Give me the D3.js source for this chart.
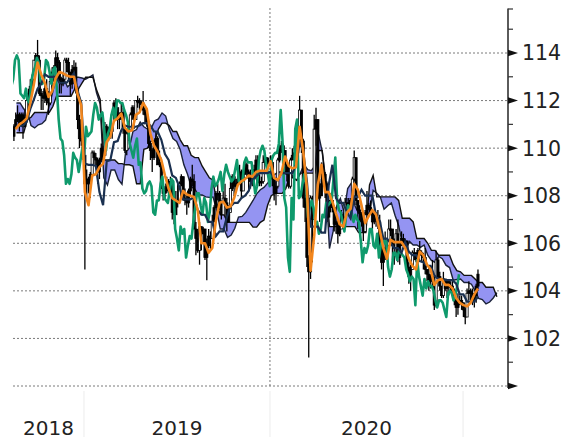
<!DOCTYPE html>
<html>
<head>
<meta charset="utf-8">
<script src="https://cdn.jsdelivr.net/npm/d3@7"></script>
<style>
  body { margin: 0; background: #fff; }
  svg { display: block; }
</style>
</head>
<body>
<svg id="chart" width="564" height="437"></svg>
<script>
// USD/JPY daily ichimoku, Aug 2018 - Jan 2021
// candles are sampled every half week (index k), lines weekly (index w)

const titleText = "米ドル／円相場の推移と一目均衡表（日足）";
const yearLabels = ["2018", "2019", "2020"];
const yearBounds = [0, 39, 141.2, 247.3];   // in half-week units
const yTicks = [100, 102, 104, 106, 108, 110, 112, 114];
const yMinor = [101, 103, 105, 107, 109, 111, 113, 115];

const firstOpen = 110.5;
const closes = [
  110.9,111.2, 111.4,111.0, 111.4,110.9, 111.3,112.0, 112.3,112.6, 112.9,113.7, 113.9,113.7, 112.3,112.2, 112.1,112.5, 112.0,111.9,
  112.8,113.2, 113.4,113.8, 113.6,112.8, 112.7,112.9, 113.7,113.6, 113.2,112.7, 113.3,113.4, 112.5,111.2, 110.4,110.3, 109.7,108.5,
  108.7,108.5, 108.9,109.8, 109.6,109.5, 109.0,109.5, 110.0,109.7, 110.9,110.5, 110.6,110.7, 111.4,111.9, 111.7,111.2, 111.4,111.5,
  110.8,109.9, 110.6,110.8, 111.4,111.7, 111.2,112.0, 112.0,111.9, 111.9,111.6, 111.4,111.1, 110.2,109.9, 109.6,110.1, 110.4,109.3,
  109.4,108.3, 108.1,108.2, 108.5,108.6, 108.4,107.3, 107.2,107.8, 107.8,108.5, 108.8,107.9, 107.8,107.7, 108.2,108.7, 108.6,106.6,
  106.2,105.7, 106.7,106.4, 106.6,105.4, 105.9,106.3, 106.2,106.9, 107.5,108.1, 108.1,107.6, 107.2,107.9, 107.7,106.9, 107.3,108.3,
  108.8,108.4, 108.5,108.7, 109.0,108.2, 108.9,109.3, 109.0,108.8, 108.6,108.7, 109.1,109.5, 108.6,108.6, 108.6,109.4, 109.6,109.4,
  109.4,109.4, 108.7,108.1, 108.4,109.5, 109.9,110.1, 109.9,109.3, 108.9,108.4, 109.5,109.7, 109.8,109.8, 110.2,111.6, 110.3,107.9,
  107.5,105.4, 104.8,107.9, 107.0,110.8, 111.2,107.9, 108.0,108.5, 108.9,108.5, 107.1,107.5, 107.8,107.5, 106.8,106.9, 106.4,106.6,
  107.2,107.1, 107.7,107.6, 107.7,107.8, 108.7,109.6, 107.8,107.4, 107.3,106.9, 106.5,107.2, 107.6,107.5, 107.3,106.9, 107.2,107.0,
  106.9,106.1, 105.2,105.8, 105.6,105.9, 106.6,106.6, 105.9,105.8, 106.4,105.4, 105.9,106.2, 106.0,106.1, 105.0,104.6, 104.9,105.6,
  105.6,105.3, 105.7,105.6, 105.5,105.4, 104.9,104.7, 104.4,104.6, 104.5,103.4, 105.3,104.6, 104.2,103.8, 104.5,104.1, 104.4,104.2,
  104.2,104.0, 103.6,103.3, 103.6,103.6, 103.5,103.2, 102.9,103.9, 104.0,103.9, 103.6,103.8, 104.2,104.7
];
const highs = [
  111.0,111.5, 111.8,111.5, 111.5,111.5, 111.6,112.1, 112.5,112.9, 113.1,113.7, 114.0,114.55, 113.9,112.5, 112.4,112.7, 112.9,112.4,
  113.0,113.4, 113.5,114.1, 114.0,113.7, 113.0,113.2, 113.8,113.8, 113.8,113.2, 113.5,113.7, 113.6,112.6, 111.4,111.0, 110.3,109.7,
  109.1,108.8, 109.0,109.9, 109.9,109.8, 109.6,109.6, 110.2,110.1, 111.1,111.0, 110.9,110.9, 111.5,112.0, 112.1,111.7, 111.5,111.9,
  111.7,110.9, 110.7,111.0, 111.5,111.8, 111.8,112.0, 112.2,112.1, 112.0,112.4, 111.7,111.6, 111.2,110.3, 110.0,110.3, 110.7,110.5,
  109.9,109.6, 108.5,108.4, 108.8,108.7, 108.8,108.5, 107.6,108.2, 108.5,108.6, 108.9,108.7, 108.3,108.1, 108.3,108.8, 109.3,108.9,
  106.9,106.6, 106.9,106.7, 106.7,106.6, 106.2,106.6, 106.5,107.2, 107.6,108.2, 108.5,108.2, 107.8,108.2, 108.5,107.9, 107.6,108.6,
  108.9,108.9, 108.7,108.9, 109.3,109.1, 109.1,109.5, 109.4,109.1, 109.1,109.0, 109.3,109.7, 109.7,108.9, 108.8,109.7, 109.7,109.6,
  109.6,109.7, 109.7,108.7, 108.6,109.6, 110.2,110.3, 110.2,109.8, 109.3,109.3, 109.6,110.0, 110.1,110.0, 110.3,112.2, 111.6,110.4,
  108.5,107.6, 105.5,108.0, 108.0,111.4, 111.7,111.2, 108.7,109.4, 109.4,109.0, 108.6,108.1, 108.1,107.9, 107.6,107.3, 107.0,106.8,
  107.4,107.3, 107.9,107.9, 107.9,107.9, 108.8,109.9, 109.6,107.7, 107.6,107.2, 107.2,107.4, 108.2,107.7, 107.8,107.3, 107.4,107.3,
  107.4,107.2, 106.3,105.9, 106.5,106.0, 107.0,107.0, 106.6,106.2, 106.6,107.0, 106.1,106.5, 106.4,106.2, 106.1,105.2, 105.1,105.7,
  105.8,105.6, 105.8,106.1, 105.7,105.6, 105.8,104.9, 105.0,104.7, 105.3,104.6, 105.7,105.4, 104.8,104.1, 104.8,104.5, 104.5,104.5,
  104.4,104.5, 104.1,103.7, 103.9,103.8, 103.8,103.4, 103.3,104.1, 104.4,104.1, 104.1,103.9, 104.3,104.9
];
const lows = [
  110.3,110.8, 111.1,110.7, 110.9,110.4, 110.9,111.2, 111.7,112.2, 112.6,112.8, 113.4,113.6, 112.2,111.6, 111.6,111.9, 111.8,111.4,
  111.8,112.5, 112.8,113.1, 113.0,112.3, 112.3,112.6, 112.9,113.2, 112.8,112.2, 112.5,113.0, 112.3,110.8, 110.0,110.1, 109.5,104.9,
  107.8,108.1, 107.9,108.8, 109.3,109.2, 108.5,108.7, 109.4,109.6, 109.9,110.3, 110.3,110.4, 110.4,111.2, 111.4,110.8, 110.8,111.2,
  110.6,109.8, 109.7,110.3, 110.8,111.2, 110.8,111.2, 111.7,111.6, 111.6,111.4, 111.0,110.9, 110.0,109.5, 109.0,109.5, 110.0,109.3,
  109.2,108.3, 107.8,107.9, 108.1,108.0, 108.2,107.0, 106.8,107.2, 107.5,107.7, 108.4,107.8, 107.6,107.2, 107.5,108.0, 108.4,106.6,
  105.5,105.6, 105.1,105.7, 106.0,105.3, 104.45,105.8, 105.7,106.2, 106.9,107.5, 107.8,107.4, 107.0,107.3, 107.5,106.5, 106.9,107.4,
  108.2,108.0, 108.2,108.4, 108.6,107.9, 108.2,108.9, 108.7,108.2, 108.3,108.4, 108.6,109.0, 108.4,108.4, 108.4,108.5, 109.3,109.2,
  109.3,109.3, 108.4,107.8, 107.6,108.3, 109.4,109.8, 109.6,109.0, 108.6,108.3, 108.3,109.5, 109.6,109.6, 109.7,110.1, 109.8,107.5,
  106.9,105.0, 101.2,104.5, 105.2,107.0, 110.1,107.8, 106.9,108.0, 108.4,107.9, 106.9,107.1, 107.3,107.3, 106.5,106.4, 106.0,106.3,
  106.7,106.8, 107.0,107.4, 107.5,107.1, 107.6,108.6, 107.6,106.6, 106.9,106.7, 106.1,106.9, 107.3,107.4, 107.2,106.6, 106.8,106.7,
  106.6,105.7, 104.9,104.2, 105.3,105.5, 105.8,106.3, 105.3,105.1, 105.6,105.2, 105.1,106.0, 105.9,105.9, 104.8,104.3, 104.0,105.0,
  105.3,105.2, 105.3,105.5, 105.2,104.9, 104.7,104.4, 104.0,104.1, 104.2,103.2, 103.3,104.5, 104.0,103.7, 103.7,104.0, 103.7,103.8,
  104.0,103.9, 103.4,102.9, 103.0,103.4, 103.2,102.9, 102.6,103.0, 103.6,103.5, 103.4,103.3, 103.5,104.0
];

// conversion line (tenkan), weekly
const conversion = [
  110.8,111.0,111.1,111.25,111.9,112.7,113.6,113.1,112.75,112.15,
  112.4,112.95,113.2,113.15,113.05,113.0,113.0,112.25,111.8,108.15,
  107.6,108.85,108.9,109.2,109.35,110.25,110.5,111.15,111.25,111.45,
  110.85,110.7,110.75,111.4,111.5,111.9,111.65,110.6,110.1,109.85,
  109.5,108.85,108.3,107.9,107.8,107.7,108.2,108.05,108.0,107.95,
  107.4,106.0,106.0,105.6,105.8,106.95,107.7,107.75,107.5,107.55,
  107.9,108.45,108.6,108.7,108.85,108.8,109.0,109.05,109.05,109.05,
  109.45,108.75,108.65,108.95,109.65,109.25,109.15,109.2,110.9,109.85,
  108.3,104.85,106.3,108.45,109.3,108.15,108.15,107.75,107.25,106.8,
  106.7,107.3,107.45,108.5,108.25,107.6,106.85,107.15,107.4,107.2,
  106.55,105.8,105.35,106.15,106.05,106.05,106.05,105.8,105.35,105.05,
  104.9,105.65,105.5,105.1,104.9,104.25,104.45,104.5,104.25,104.25,
  104.1,103.7,103.5,103.4,103.35,103.5,103.85,104.1
];
// base line (kijun), weekly
const base = [
  110.9,110.95,110.95,111.1,111.65,112.05,112.5,112.7,113.1,113.0,
  113.0,113.0,112.75,112.75,112.75,112.95,113.15,112.4,111.9,109.35,
  109.3,109.3,109.25,108.15,107.6,109.45,109.5,110.25,110.3,110.75,
  110.95,110.9,110.9,110.9,110.95,111.05,111.05,110.95,110.7,110.7,
  110.35,109.75,109.5,108.85,108.75,108.35,107.85,107.85,107.85,107.95,
  107.4,107.2,107.2,106.9,106.9,106.3,106.5,106.5,107.1,107.55,
  107.7,107.7,107.9,108.0,108.2,108.7,108.8,108.95,108.95,108.95,
  109.0,108.75,108.65,108.95,108.95,108.95,108.95,109.3,110.25,109.85,
  108.6,106.7,106.7,106.7,106.45,106.45,108.45,109.3,107.9,107.7,
  107.7,107.3,107.05,107.95,107.95,108.25,108.0,108.0,108.0,107.15,
  106.95,106.2,106.2,106.0,105.8,105.8,105.6,106.05,105.65,105.5,
  105.5,105.25,105.2,105.05,105.05,104.65,104.5,104.5,104.45,104.45,
  104.45,104.3,103.85,103.85,103.55,103.55,103.55,103.75
];
// leading spans (cloud), weekly, already shifted 26 days ahead
const spanA = [
  111.9,111.9,111.65,111.55,110.95,
  110.85,110.98,111.03,111.18,111.78,112.38,113.05,112.9,112.93,112.58,
  112.7,112.98,112.98,112.95,112.9,112.98,113.08,112.33,111.85,108.75,
  108.45,109.08,109.08,108.68,108.48,109.85,110.0,110.7,110.78,111.1,
  110.9,110.8,110.83,111.15,111.23,111.48,111.35,110.78,110.4,110.28,
  109.93,109.3,108.9,108.38,108.28,108.03,108.03,107.95,107.93,107.95,
  107.4,106.6,106.6,106.25,106.35,106.63,107.1,107.13,107.3,107.55,
  107.8,108.08,108.25,108.35,108.53,108.75,108.9,109.0,109.0,109.0,
  109.23,108.75,108.65,108.95,109.3,109.1,109.05,109.25,110.58,109.85,
  108.45,105.78,106.5,107.58,107.88,107.3,108.3,108.53,107.58,107.25,
  107.2,107.3,107.25,108.23,108.1,107.93,107.43,107.58,107.7,107.18,
  106.75,106.0,105.78,106.08,105.93,105.93,105.83,105.93,105.5,105.28,
  105.2,105.45,105.35,105.08,104.98,104.45,104.48,104.5,104.35,104.35,
  104.28,104.0,103.68,103.63,103.45,103.53,103.7,103.93
];
const spanB = [
  110.65,110.65,110.65,111.2,111.3,
  111.5,111.5,111.5,111.5,111.5,111.75,112.18,112.18,112.18,112.18,
  112.18,112.48,112.48,112.73,112.98,112.98,112.98,112.45,112.05,109.5,
  109.5,109.5,109.5,109.35,109.35,109.3,109.3,109.25,108.5,108.5,
  109.95,110.0,110.3,110.3,110.8,111.05,111.05,110.95,110.7,110.7,
  110.35,110.1,110.1,109.7,109.6,109.6,109.25,109.0,108.75,108.65,
  107.7,107.2,107.2,106.88,106.88,106.88,106.88,106.88,106.88,106.88,
  106.68,106.68,106.88,106.98,107.6,108.0,108.1,108.1,108.1,108.3,
  108.8,108.75,108.65,108.95,108.95,108.95,108.95,108.95,109.9,109.9,
  108.6,106.7,106.7,106.7,106.7,106.7,106.7,106.7,106.7,106.45,
  106.45,106.45,108.45,108.85,107.95,107.95,107.95,107.95,107.95,107.95,
  107.8,107.05,107.05,107.05,106.9,106.2,106.2,106.2,106.0,105.7,
  105.7,105.5,105.5,105.5,105.5,105.1,104.85,104.8,104.65,104.65,
  104.65,104.5,104.35,104.35,104.15,104.15,104.15,103.75
];
const laggingShift = 10.4; // 26 trading days in half-week units

const svg = d3.select("#chart");
const plotLeft = 13, plotRight = 508, plotTop = 53, plotBottom = 386;

const x = d3.scaleLinear().domain([0, 272]).range([plotLeft, plotRight]);
const y = d3.scaleLinear().domain([100, 114]).range([plotBottom, plotTop]);

// clip for the series
svg.append("clipPath").attr("id", "plot")
  .append("rect").attr("x", plotLeft).attr("y", 0)
  .attr("width", plotRight - plotLeft).attr("height", plotBottom);

// title (cut off at the top edge)
svg.append("text")
  .attr("x", 15).attr("y", -2)
  .attr("font-family", "Noto Sans CJK JP")
  .attr("font-size", "17.5px")
  .attr("fill", "#333")
  .text(titleText);

// gridlines
svg.append("g").selectAll("line")
  .data(yTicks)
  .join("line")
  .attr("x1", plotLeft).attr("x2", plotRight)
  .attr("y1", d => y(d)).attr("y2", d => y(d))
  .attr("stroke", "#7a7a7a")
  .attr("stroke-width", 1)
  .attr("stroke-dasharray", "2,2");

svg.append("line")
  .attr("x1", x(yearBounds[2])).attr("x2", x(yearBounds[2]))
  .attr("y1", 8).attr("y2", plotBottom)
  .attr("stroke", "#7a7a7a")
  .attr("stroke-dasharray", "2,2");

// faint year separators under the plot
svg.append("g").selectAll("line")
  .data(yearBounds.slice(1))
  .join("line")
  .attr("x1", d => x(d)).attr("x2", d => x(d))
  .attr("y1", 391).attr("y2", 437)
  .attr("stroke", "#ececec");

const series = svg.append("g").attr("clip-path", "url(#plot)");

// cloud
const cloudPts = spanA.map((a, p) => ({ k: 2 * p + 1.9, a, b: spanB[p] }));
series.append("path")
  .datum(cloudPts)
  .attr("fill", "#9494f2")
  .attr("d", d3.area().x(d => x(d.k)).y0(d => y(d.a)).y1(d => y(d.b)));
series.append("path")
  .datum(cloudPts)
  .attr("fill", "none").attr("stroke", "#1b2238").attr("stroke-width", 1.4)
  .attr("d", d3.line().x(d => x(d.k)).y(d => y(d.a)));
series.append("path")
  .datum(cloudPts)
  .attr("fill", "none").attr("stroke", "#111").attr("stroke-width", 1.4)
  .attr("d", d3.line().x(d => x(d.k)).y(d => y(d.b)));

// candles
const candles = closes.map((c, k) => ({
  k, c, h: highs[k], l: lows[k], o: k === 0 ? firstOpen : closes[k - 1]
}));
const cg = series.append("g");
cg.selectAll("line")
  .data(candles)
  .join("line")
  .attr("x1", d => x(d.k + 0.5)).attr("x2", d => x(d.k + 0.5))
  .attr("y1", d => y(Math.max(d.h, d.o, d.c))).attr("y2", d => y(Math.min(d.l, d.o, d.c)))
  .attr("stroke", "#000").attr("stroke-width", 1.3);
cg.selectAll("rect")
  .data(candles)
  .join("rect")
  .attr("x", d => x(d.k + 0.5) - 1.1)
  .attr("width", 2.2)
  .attr("y", d => y(Math.max(d.o, d.c)))
  .attr("height", d => Math.max(1.5, Math.abs(y(d.o) - y(d.c))))
  .attr("fill", d => (d.c - d.o) > 0.6 ? "#fff" : "#000")
  .attr("stroke", "#000").attr("stroke-width", 0.8);

// lagging span (closes shifted back 26 days)
series.append("path")
  .datum(closes)
  .attr("fill", "none").attr("stroke", "#0f9a6c").attr("stroke-width", 2.6)
  .attr("stroke-linejoin", "round")
  .attr("d", d3.line().x((d, k) => x(k + 0.5 - laggingShift)).y(d => y(d)));

// base line
series.append("path")
  .datum(base)
  .attr("fill", "none").attr("stroke", "#1a3050").attr("stroke-width", 2.2)
  .attr("d", d3.line().x((d, w) => x(2 * w + 1.5)).y(d => y(d)));

// conversion line
series.append("path")
  .datum(conversion)
  .attr("fill", "none").attr("stroke", "#f2861d").attr("stroke-width", 2.6)
  .attr("stroke-linejoin", "round")
  .attr("d", d3.line().x((d, w) => x(2 * w + 1.5)).y(d => y(d)));

// right axis
const ax = svg.append("g");
ax.append("line")
  .attr("x1", plotRight).attr("x2", plotRight).attr("y1", 8.5).attr("y2", 388)
  .attr("stroke", "#333").attr("stroke-width", 1.6);
ax.append("line")
  .attr("x1", plotRight).attr("x2", plotRight + 5).attr("y1", 9).attr("y2", 9)
  .attr("stroke", "#333").attr("stroke-width", 1.2);
ax.selectAll(".minor")
  .data(yMinor)
  .join("line")
  .attr("class", "minor")
  .attr("x1", plotRight).attr("x2", plotRight + 5)
  .attr("y1", d => y(d)).attr("y2", d => y(d))
  .attr("stroke", "#333").attr("stroke-width", 1.2);
ax.selectAll(".tri")
  .data(yTicks)
  .join("path")
  .attr("class", "tri")
  .attr("d", d => `M${plotRight},${y(d) - 3.2}L${plotRight + 10},${y(d)}L${plotRight},${y(d) + 3.2}Z`)
  .attr("fill", "#111");
ax.selectAll(".lab")
  .data(yTicks.filter(d => d > 100))
  .join("text")
  .attr("class", "lab")
  .attr("x", 522)
  .attr("y", d => y(d))
  .attr("dy", "0.36em")
  .attr("font-family", "DejaVu Sans")
  .attr("font-size", "20.5px")
  .attr("fill", "#222")
  .text(d => d);

// year labels
svg.append("g").selectAll("text")
  .data(yearLabels)
  .join("text")
  .attr("x", (d, i) => x((yearBounds[i] + yearBounds[i + 1]) / 2))
  .attr("y", 435)
  .attr("text-anchor", "middle")
  .attr("font-family", "DejaVu Sans")
  .attr("font-size", "20px")
  .attr("fill", "#222")
  .text(d => d);
</script>
</body>
</html>
